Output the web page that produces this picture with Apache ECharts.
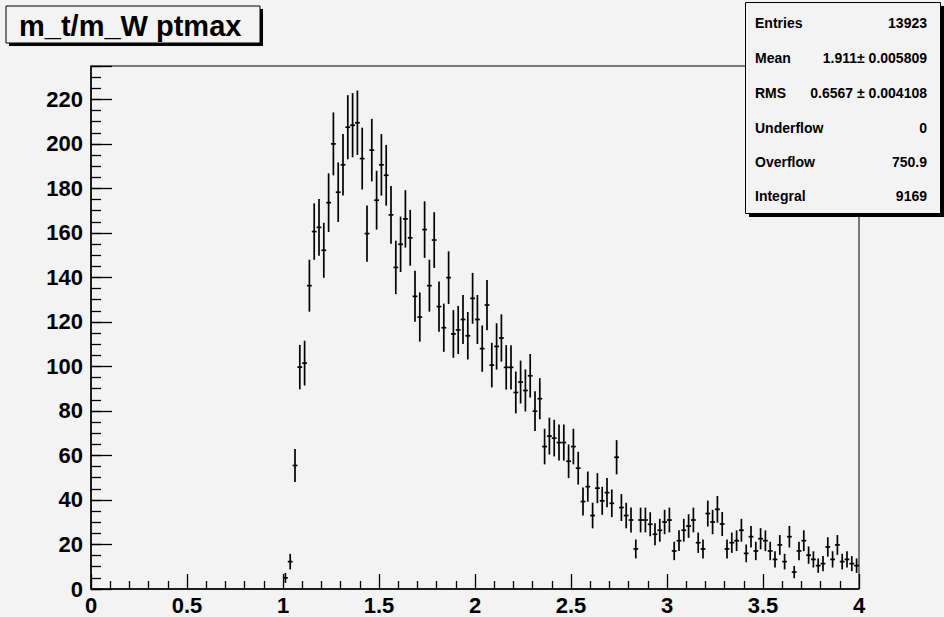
<!DOCTYPE html>
<html>
<head>
<meta charset="utf-8">
<script src="https://cdn.jsdelivr.net/npm/echarts@6/dist/echarts.min.js"></script>
<style>
  html, body { margin: 0; padding: 0; background: #f3f3f3; }
  #chart { width: 944px; height: 617px; }
</style>
</head>
<body>
<div id="chart"></div>
<script>
// Histogram binning: 160 bins over [0, 4]; only bins from 1.0 upward are filled
const binLow = 1.0;
const binWidth = 0.025;

// Bin contents, one entry per bin starting at binLow
const counts = [
  5.0, 12.3, 55.5, 99.7, 101.5, 136.3, 160.6, 162.5, 152.2, 173.6,
  200.0, 178.3, 190.6, 207.5, 208.4, 209.5, 193.4, 159.7, 197.2, 174.7,
  190.6, 185.9, 168.1, 144.5, 154.9, 166.3, 157.8, 131.5, 122.2, 161.5,
  136.3, 156.8, 126.9, 117.4, 139.9, 114.6, 116.4, 121.1, 113.8, 130.6,
  121.1, 108.0, 127.6, 100.6, 109.0, 112.8, 99.6, 99.6, 88.3, 93.0,
  89.2, 95.8, 79.9, 85.5, 64.0, 68.7, 67.8, 65.8, 65.8, 57.4,
  64.0, 54.3, 39.3, 46.0, 33.0, 45.3, 39.6, 43.3, 38.5, 59.2,
  36.6, 33.0, 31.0, 18.0, 31.0, 31.0, 29.1, 24.6, 26.4, 30.1,
  31.0, 17.1, 21.7, 26.4, 28.3, 31.0, 20.8, 18.0, 33.9, 30.1,
  35.8, 29.2, 18.0, 20.8, 21.7, 26.4, 16.0, 23.5, 17.1, 22.6,
  21.7, 17.1, 13.3, 19.8, 12.3, 23.5, 7.6, 17.1, 21.7, 15.2,
  13.3, 10.5, 11.4, 18.9, 13.3, 19.8, 12.3, 13.3, 11.4, 10.5
];

// Axis ranges
const xRange = [0, 4];
const yRange = [0, 235];

// Statistics box rows
const statLabels = ['Entries', 'Mean', 'RMS', 'Underflow', 'Overflow', 'Integral'];
const statValues = ['13923', '1.911\u00b1 0.005809', '0.6567 \u00b1 0.004108', '0', '750.9', '9169'];

const histTitle = 'm_t/m_W ptmax';

// Points: [bin centre, content, statistical error]
const points = counts.map((c, i) => [binLow + (i + 0.5) * binWidth, c, Math.sqrt(c)]);

const axisFont = 'Liberation Sans, Arial, Helvetica, sans-serif';
const black = '#000';
const paper = '#f3f3f3';

const chart = echarts.init(document.getElementById('chart'), null, { renderer: 'svg' });

const statRowY = [23, 58, 93, 128, 162, 196];
const statGraphics = [];
statLabels.forEach((lab, i) => {
  statGraphics.push({
    type: 'text', z: 103,
    style: { text: lab, x: 755, y: statRowY[i], fill: black,
      font: 'bold 14px ' + axisFont, textAlign: 'left', textVerticalAlign: 'middle' }
  });
  statGraphics.push({
    type: 'text', z: 103,
    style: { text: statValues[i], x: 927, y: statRowY[i], fill: black,
      font: 'bold 14px ' + axisFont, textAlign: 'right', textVerticalAlign: 'middle' }
  });
});

chart.setOption({
  animation: false,
  backgroundColor: paper,
  grid: {
    left: 91, top: 66, width: 768, height: 523,
    show: true, borderColor: black, borderWidth: 1, backgroundColor: paper
  },
  xAxis: {
    type: 'value', min: xRange[0], max: xRange[1], interval: 0.5,
    axisLine: { show: true, onZero: false, lineStyle: { color: black, width: 1.5 } },
    axisTick: { show: true, inside: true, length: 15, lineStyle: { color: black, width: 1.3 } },
    minorTick: { show: true, splitNumber: 5, length: 8, lineStyle: { color: black, width: 1.3 } },
    splitLine: { show: false },
    axisLabel: { color: black, fontSize: 22, fontWeight: 'bold', fontFamily: axisFont, margin: 5 }
  },
  yAxis: [
    {
      type: 'value', min: yRange[0], max: yRange[1], interval: 5,
      axisLine: { show: true, onZero: false, lineStyle: { color: black, width: 1.5 } },
      axisTick: { show: true, inside: true, length: 10, lineStyle: { color: black, width: 1.3 } },
      splitLine: { show: false },
      axisLabel: {
        color: black, fontSize: 22, fontWeight: 'bold', fontFamily: axisFont, margin: 8,
        formatter: v => (v % 20 === 0 ? String(v) : '')
      }
    },
    {
      type: 'value', min: yRange[0], max: yRange[1], interval: 20, position: 'left',
      axisLine: { show: false },
      axisTick: { show: true, inside: true, length: 21, lineStyle: { color: black, width: 1.3 } },
      splitLine: { show: false },
      axisLabel: { show: false }
    }
  ],
  series: [{
    type: 'custom',
    xAxisIndex: 0, yAxisIndex: 0,
    data: points,
    encode: { x: 0, y: 1 },
    clip: true,
    renderItem: function (params, api) {
      const x = api.value(0), y = api.value(1), e = api.value(2);
      const top = api.coord([x, y + e]);
      const bot = api.coord([x, Math.max(0, y - e)]);
      const l = api.coord([x - binWidth / 2, y]);
      const r = api.coord([x + binWidth / 2, y]);
      const st = { stroke: black, lineWidth: 1.7 };
      return {
        type: 'group',
        children: [
          { type: 'line', shape: { x1: top[0], y1: top[1], x2: bot[0], y2: bot[1] }, style: st },
          { type: 'line', shape: { x1: l[0], y1: l[1], x2: r[0], y2: r[1] }, style: st }
        ]
      };
    }
  }],
  graphic: [
    // title box with drop shadow
    { type: 'rect', z: 100, shape: { x: 9, y: 9, width: 254, height: 37 }, style: { fill: black } },
    { type: 'rect', z: 101, shape: { x: 6, y: 6, width: 254, height: 37 },
      style: { fill: paper, stroke: black, lineWidth: 1 } },
    { type: 'text', z: 102,
      style: { text: histTitle, x: 19, y: 26, fill: black,
        font: 'bold 29px ' + axisFont, textAlign: 'left', textVerticalAlign: 'middle' } },
    // statistics box with drop shadow
    { type: 'rect', z: 100, shape: { x: 749, y: 6, width: 195, height: 211 }, style: { fill: black } },
    { type: 'rect', z: 101, shape: { x: 745.5, y: 2.5, width: 195, height: 211 },
      style: { fill: paper, stroke: black, lineWidth: 1 } }
  ].concat(statGraphics)
});
</script>
</body>
</html>
